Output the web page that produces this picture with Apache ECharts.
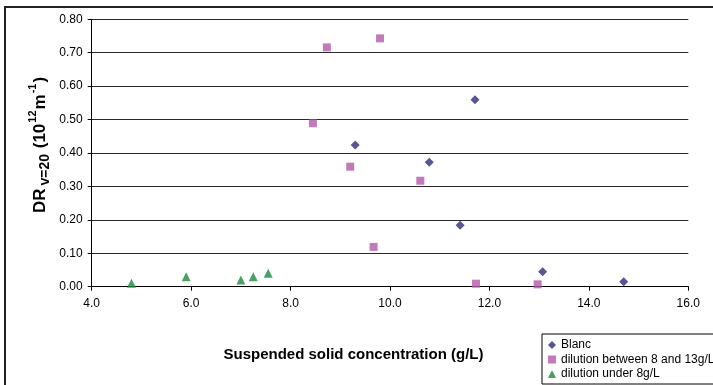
<!DOCTYPE html>
<html>
<head>
<meta charset="utf-8">
<script src="https://cdn.jsdelivr.net/npm/echarts@6/dist/echarts.min.js"></script>
<style>
html,body{margin:0;padding:0;background:#fff;}
#c{width:713px;height:385px;}
</style>
</head>
<body>
<div id="c"></div>
<script>
const seriesNames = ['Blanc', 'dilution between 8 and 13g/L', 'dilution under 8g/L'];
const blanc = [[11.71,0.559],[9.30,0.424],[10.79,0.372],[11.41,0.184],[13.07,0.045],[14.70,0.015]];
const dilution8to13 = [[9.80,0.743],[8.73,0.716],[8.45,0.489],[9.20,0.359],[10.61,0.317],[9.67,0.119],[11.73,0.009],[12.97,0.007]];
const dilutionUnder8 = [[4.80,0.010],[5.90,0.030],[7.00,0.020],[7.25,0.030],[7.55,0.040]];
const xTicks = [4,6,8,10,12,14,16];
const yTicks = [0,0.1,0.2,0.3,0.4,0.5,0.6,0.7,0.8];
const xTitle = 'Suspended solid concentration (g/L)';
const yTitle = '{a|DR}{b|v=20}{a| (10}{c|12}{a|m}{c|-1}{a|)}';

const font = 'Liberation Sans, Arial, sans-serif';
const chart = echarts.init(document.getElementById('c'));
chart.setOption({
  animation:false,
  backgroundColor:'#fff',
  textStyle:{fontFamily:font},
  graphic:[
    {type:'line',shape:{x1:4,y1:7,x2:713,y2:7},style:{stroke:'#222',lineWidth:2}},
    {type:'line',shape:{x1:5,y1:7,x2:5,y2:385},style:{stroke:'#222',lineWidth:2}},
    {type:'text',x:353.5,y:355,style:{text:xTitle,font:'bold 15px '+font,fill:'#000',align:'center',verticalAlign:'middle'}},
    {type:'text',x:38,y:145,rotation:Math.PI/2,style:{
      text:yTitle,align:'center',verticalAlign:'middle',fill:'#000',
      rich:{
        a:{fontFamily:font,fontWeight:'bold',fontSize:17,fill:'#000',lineHeight:22,verticalAlign:'bottom'},
        b:{fontFamily:font,fontWeight:'bold',fontSize:14,fill:'#000',lineHeight:22,verticalAlign:'bottom',padding:[0,1,-3,3]},
        c:{fontFamily:font,fontWeight:'bold',fontSize:11,fill:'#000',lineHeight:22,verticalAlign:'top',padding:[0,1,0,1]}
      }
    }}
  ],
  grid:{left:91.7,right:24.7,top:19.3,bottom:98.3},
  xAxis:{
    type:'value',min:xTicks[0],max:xTicks[xTicks.length-1],interval:2,
    axisLine:{lineStyle:{color:'#000',width:1}},
    axisTick:{show:true,length:4,lineStyle:{color:'#000'}},
    axisLabel:{fontFamily:font,fontSize:12,color:'#000',margin:11,formatter:v=>v.toFixed(1)},
    splitLine:{show:false}
  },
  yAxis:{
    type:'value',min:yTicks[0],max:yTicks[yTicks.length-1],interval:0.1,
    axisLine:{show:true,lineStyle:{color:'#000',width:1}},
    axisTick:{show:true,length:4,lineStyle:{color:'#000'}},
    axisLabel:{fontFamily:font,fontSize:12,color:'#000',margin:9,formatter:v=>v.toFixed(2)},
    splitLine:{show:true,lineStyle:{color:'#2a2a2a',width:1}}
  },
  legend:{
    orient:'vertical',left:542,top:334,height:80,
    itemWidth:8,itemHeight:8,itemGap:2.5,
    padding:[5,8,4,6],
    borderColor:'#000',borderWidth:1,backgroundColor:'#fff',
    textStyle:{fontFamily:font,fontSize:12,color:'#000'},
    data:[
      {name:seriesNames[0],icon:'diamond'},
      {name:seriesNames[1],icon:'rect'},
      {name:seriesNames[2],icon:'triangle'}
    ]
  },
  series:[
    {name:seriesNames[0],type:'scatter',data:blanc,symbol:'diamond',symbolSize:9,itemStyle:{color:'#2E2A78'}},
    {name:seriesNames[1],type:'scatter',data:dilution8to13,symbol:'rect',symbolSize:8,itemStyle:{color:'#B05AA6'}},
    {name:seriesNames[2],type:'scatter',data:dilutionUnder8,symbol:'triangle',symbolSize:9,itemStyle:{color:'#1E8A3E'}}
  ]
});
</script>
</body>
</html>
